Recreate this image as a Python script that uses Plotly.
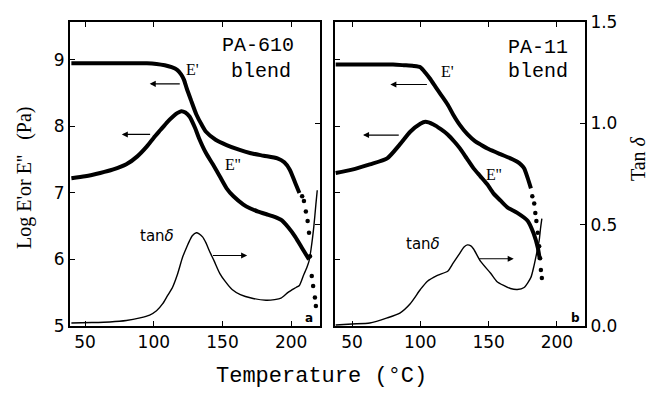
import plotly.graph_objects as go

# ---------------- data: PA-610 blend (panel a) ----------------
t_a_ep = [40, 60, 80, 95, 102, 108, 113, 117, 120, 122, 124, 127, 131, 135, 138, 145, 153, 162, 170, 180, 190, 195, 199, 203, 206]
a_ep = [8.95, 8.95, 8.95, 8.95, 8.94, 8.92, 8.89, 8.85, 8.78, 8.7, 8.57, 8.4, 8.18, 8.02, 7.92, 7.8, 7.72, 7.65, 7.6, 7.56, 7.52, 7.46, 7.35, 7.15, 7.0]
t_a_ep_tail = [208, 209.3, 210.7, 212, 213, 213.7, 215, 216, 217.3, 218]
a_ep_tail = [6.95, 6.88, 6.72, 6.58, 6.4, 6.05, 5.75, 5.6, 5.43, 5.3]

t_a_epp = [40, 50, 61, 70, 80, 88, 95, 100, 105, 110, 114, 117, 120, 123, 126, 130, 133, 138, 143, 148, 153, 158, 165, 170, 176, 182, 188, 193, 198, 203, 208, 213]
a_epp = [7.22, 7.25, 7.3, 7.35, 7.43, 7.55, 7.7, 7.83, 7.95, 8.07, 8.15, 8.2, 8.23, 8.21, 8.15, 7.98, 7.82, 7.6, 7.43, 7.25, 7.07, 6.95, 6.83, 6.77, 6.72, 6.68, 6.64, 6.59, 6.48, 6.34, 6.17, 6.0]

t_a_tan = [40, 55, 68, 80, 90, 97, 102, 106.5, 110, 113.6, 117, 121, 124, 126, 128, 131, 133, 135.5, 138, 140.5, 144, 148, 152, 157, 163, 171.6, 181.7, 188, 192.6, 198, 203.6, 206, 209, 211.5, 213, 214.5, 216.5, 218, 219]
a_tan = [0.015, 0.017, 0.02, 0.027, 0.04, 0.054, 0.075, 0.11, 0.15, 0.19, 0.25, 0.34, 0.39, 0.42, 0.445, 0.46, 0.455, 0.44, 0.41, 0.37, 0.32, 0.26, 0.22, 0.18, 0.155, 0.137, 0.127, 0.13, 0.137, 0.167, 0.19, 0.2, 0.25, 0.29, 0.32, 0.38, 0.49, 0.6, 0.67]

# ---------------- data: PA-11 blend (panel b) ----------------
t_b_ep = [38, 60, 80, 88, 95, 100, 104, 107, 111, 115, 120, 124, 129, 134.6, 140, 144, 150, 159, 166, 171, 174, 176, 178.7, 181]
b_ep = [8.93, 8.93, 8.93, 8.92, 8.91, 8.89, 8.8, 8.72, 8.6, 8.48, 8.33, 8.18, 8.02, 7.88, 7.78, 7.73, 7.66, 7.58, 7.52, 7.47, 7.42, 7.37, 7.22, 7.07]
t_b_ep_tail = [182, 183.4, 184.2, 185, 186, 187, 187.7, 188.3, 189]
b_ep_tail = [6.95, 6.84, 6.7, 6.58, 6.4, 6.2, 6.02, 5.84, 5.72]

t_b_epp = [38, 50, 63, 75.7, 85, 92.6, 100, 103.7, 109.6, 115, 120, 125, 129, 134, 139, 144, 149, 153.7, 159, 164, 171, 178.7, 183, 186, 187.5]
b_epp = [7.3, 7.35, 7.43, 7.52, 7.73, 7.92, 8.04, 8.07, 8.03, 7.96, 7.88, 7.77, 7.67, 7.52, 7.37, 7.25, 7.13, 6.99, 6.88, 6.78, 6.7, 6.58, 6.39, 6.18, 6.0]

t_b_tan = [38, 50, 63, 75.7, 85, 92.6, 100, 105, 112.5, 120, 124, 129, 132, 134.5, 137, 139, 144, 151.5, 156, 161, 166, 171, 176, 181, 183, 184.6, 187, 188, 189]
b_tan = [0.005, 0.01, 0.015, 0.04, 0.064, 0.11, 0.18, 0.22, 0.25, 0.27, 0.31, 0.36, 0.39, 0.40, 0.395, 0.38, 0.32, 0.26, 0.22, 0.2, 0.185, 0.18, 0.19, 0.24, 0.29, 0.34, 0.42, 0.48, 0.53]

x_ticks = [50, 100, 150, 200]
y_ticks = [5, 6, 7, 8, 9]
tan_ticks = [0.0, 0.5, 1.0, 1.5]
tan_labels = ["0.0", "0.5", "1.0", "1.5"]

BLK = "black"
thick = dict(color=BLK, width=4, shape="spline", smoothing=0.6)
thin = dict(color=BLK, width=1.4, shape="spline", smoothing=0.6)
dots = dict(color=BLK, size=4.5)

fig = go.Figure()
# panel a
fig.add_trace(go.Scatter(x=t_a_ep, y=a_ep, mode="lines", line=thick, xaxis="x", yaxis="y"))
fig.add_trace(go.Scatter(x=t_a_ep_tail, y=a_ep_tail, mode="markers", marker=dots, xaxis="x", yaxis="y"))
fig.add_trace(go.Scatter(x=t_a_epp, y=a_epp, mode="lines", line=thick, xaxis="x", yaxis="y"))
fig.add_trace(go.Scatter(x=t_a_tan, y=a_tan, mode="lines", line=thin, xaxis="x", yaxis="y3"))
# panel b
fig.add_trace(go.Scatter(x=t_b_ep, y=b_ep, mode="lines", line=thick, xaxis="x2", yaxis="y2"))
fig.add_trace(go.Scatter(x=t_b_ep_tail, y=b_ep_tail, mode="markers", marker=dots, xaxis="x2", yaxis="y2"))
fig.add_trace(go.Scatter(x=t_b_epp, y=b_epp, mode="lines", line=thick, xaxis="x2", yaxis="y2"))
fig.add_trace(go.Scatter(x=t_b_tan, y=b_tan, mode="lines", line=thin, xaxis="x2", yaxis="y4"))

tickfont = dict(family="DejaVu Sans", size=17, color=BLK)
xcommon = dict(showline=True, linecolor=BLK, linewidth=2, mirror="ticks", ticks="inside",
               ticklen=5, tickcolor=BLK, tickvals=x_ticks, showgrid=False, zeroline=False,
               tickfont=tickfont)
ycommon = dict(showline=True, linecolor=BLK, linewidth=2, ticks="inside", ticklen=5,
               tickcolor=BLK, showgrid=False, zeroline=False, tickfont=tickfont)

W, H = 653, 393
ml, mr, mt, mb = 70, 68, 20, 67
pw = W - ml - mr
ph = H - mt - mb
d1 = (320 - ml) / pw
d2 = (335 - ml) / pw

fig.update_layout(
    width=W, height=H, margin=dict(l=ml, r=mr, t=mt, b=mb),
    paper_bgcolor="white", plot_bgcolor="white", showlegend=False,
    xaxis=dict(domain=[0, d1], range=[39, 221], anchor="y", **xcommon),
    xaxis2=dict(domain=[d2, 1], range=[37.5, 220.6], anchor="y2", **xcommon),
    yaxis=dict(range=[5, 9.57], tickvals=y_ticks, anchor="x", **ycommon),
    yaxis2=dict(range=[5, 9.57], tickvals=y_ticks, anchor="x2", showticklabels=False, **ycommon),
    yaxis3=dict(range=[0, 1.5], tickvals=tan_ticks, anchor="x", overlaying="y", side="right",
                showticklabels=False, **ycommon),
    yaxis4=dict(range=[0, 1.5], tickvals=tan_ticks, ticktext=tan_labels, anchor="x2",
                overlaying="y2", side="right", **ycommon),
)

mono = "Liberation Mono"
serif = "Liberation Serif"
ann = []
def txt(x, y, s, xref, yref, size, family, **kw):
    ann.append(dict(x=x, y=y, xref=xref, yref=yref, text=s, showarrow=False,
                    font=dict(family=family, size=size, color=BLK), **kw))

def arrow(x0, x1, y, xref, yref):
    ann.append(dict(x=x1, y=y, ax=x0, ay=y, xref=xref, yref=yref, axref=xref, ayref=yref,
                    text="", showarrow=True, arrowhead=2, arrowsize=1.1, arrowwidth=1.1,
                    arrowcolor=BLK))

def ptxt(px, py, s, size, family, angle=0):
    ann.append(dict(x=(px - ml) / pw, y=1 - (py - mt) / ph, xref="paper", yref="paper",
                    showarrow=False, text=s, textangle=angle,
                    font=dict(family=family, size=size, color=BLK),
                    xanchor="center", yanchor="middle"))

# panel a labels
txt(176, 9.22, "PA-610", "x", "y", 20, mono)
txt(178, 8.82, "blend", "x", "y", 20, mono)
txt(128, 8.85, "E'", "x", "y", 16, serif)
txt(157.6, 7.43, "E''", "x", "y", 16, serif)
txt(102, 6.36, "tan<i>δ</i>", "x", "y", 15, "DejaVu Sans")
txt(213, 5.12, "<b>a</b>", "x", "y", 12, "DejaVu Sans")
arrow(120, 97, 8.64, "x", "y")
arrow(98.4, 76.7, 7.88, "x", "y")
arrow(142, 168, 6.06, "x", "y")
# panel b labels
txt(186, 9.19, "PA-11", "x2", "y2", 20, mono)
txt(186, 8.82, "blend", "x2", "y2", 20, mono)
txt(120, 8.82, "E'", "x2", "y2", 16, serif)
txt(153.7, 7.28, "E''", "x2", "y2", 16, serif)
txt(102, 6.24, "tan<i>δ</i>", "x2", "y2", 15, "DejaVu Sans")
txt(214, 5.12, "<b>b</b>", "x2", "y2", 12, "DejaVu Sans")
arrow(105.9, 78, 8.63, "x2", "y2")
arrow(85.3, 58, 7.87, "x2", "y2")
arrow(142, 168.4, 6.01, "x2", "y2")

# axis titles (pixel positions in the figure)
ptxt(25, 177, "Log E'or E''   (Pa)", 20, serif, -90)
ptxt(638, 158, "Tan <i>δ</i>", 20, serif, -90)
ptxt(321, 377, "Temperature (°C)", 22, mono)

fig.update_layout(annotations=ann)
fig.write_html("out.html", config={"displayModeBar": False},
               post_script="document.body.style.margin='0';document.body.style.padding='0';")
